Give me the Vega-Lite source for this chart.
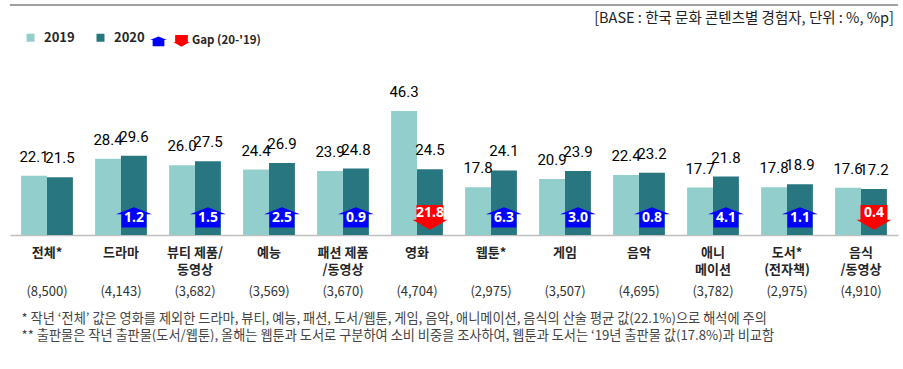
{
  "$schema": "https://vega.github.io/schema/vega-lite/v6.json",
  "width": 888,
  "height": 230,
  "padding": {"left": 9, "top": 4, "right": 6, "bottom": 0},
  "autosize": {"type": "pad"},
  "config": {"view": {"stroke": null}, "font": "Noto Sans CJK KR"},
  "datasets": {
    "bars": [
      {"cat": "전체*", "year": "2019", "value": 22.1},
      {"cat": "전체*", "year": "2020", "value": 21.5},
      {"cat": "드라마", "year": "2019", "value": 28.4},
      {"cat": "드라마", "year": "2020", "value": 29.6},
      {"cat": "뷰티 제품/\n동영상", "year": "2019", "value": 26.0},
      {"cat": "뷰티 제품/\n동영상", "year": "2020", "value": 27.5},
      {"cat": "예능", "year": "2019", "value": 24.4},
      {"cat": "예능", "year": "2020", "value": 26.9},
      {"cat": "패션 제품\n/동영상", "year": "2019", "value": 23.9},
      {"cat": "패션 제품\n/동영상", "year": "2020", "value": 24.8},
      {"cat": "영화", "year": "2019", "value": 46.3},
      {"cat": "영화", "year": "2020", "value": 24.5},
      {"cat": "웹툰*", "year": "2019", "value": 17.8},
      {"cat": "웹툰*", "year": "2020", "value": 24.1},
      {"cat": "게임", "year": "2019", "value": 20.9},
      {"cat": "게임", "year": "2020", "value": 23.9},
      {"cat": "음악", "year": "2019", "value": 22.4},
      {"cat": "음악", "year": "2020", "value": 23.2},
      {"cat": "애니\n메이션", "year": "2019", "value": 17.7},
      {"cat": "애니\n메이션", "year": "2020", "value": 21.8},
      {"cat": "도서*\n(전자책)", "year": "2019", "value": 17.8},
      {"cat": "도서*\n(전자책)", "year": "2020", "value": 18.9},
      {"cat": "음식\n/동영상", "year": "2019", "value": 17.6},
      {"cat": "음식\n/동영상", "year": "2020", "value": 17.2}
    ],
    "cats": [
      {"cat": "전체*", "n": 8500, "gap": null, "dir": null},
      {"cat": "드라마", "n": 4143, "gap": 1.2, "dir": "up"},
      {"cat": "뷰티 제품/\n동영상", "n": 3682, "gap": 1.5, "dir": "up"},
      {"cat": "예능", "n": 3569, "gap": 2.5, "dir": "up"},
      {"cat": "패션 제품\n/동영상", "n": 3670, "gap": 0.9, "dir": "up"},
      {"cat": "영화", "n": 4704, "gap": 21.8, "dir": "down"},
      {"cat": "웹툰*", "n": 2975, "gap": 6.3, "dir": "up"},
      {"cat": "게임", "n": 3507, "gap": 3.0, "dir": "up"},
      {"cat": "음악", "n": 4695, "gap": 0.8, "dir": "up"},
      {"cat": "애니\n메이션", "n": 3782, "gap": 4.1, "dir": "up"},
      {"cat": "도서*\n(전자책)", "n": 2975, "gap": 1.1, "dir": "up"},
      {"cat": "음식\n/동영상", "n": 4910, "gap": 0.4, "dir": "down"}
    ],
    "note": [{"text": "[BASE : 한국 문화 콘텐츠별 경험자, 단위 : %, %p]"}]
  },
  "encoding": {
    "x": {
      "field": "cat", "type": "nominal", "sort": null,
      "scale": {"paddingInner": 0.3, "paddingOuter": 0.15},
      "axis": {
        "title": ["* 작년 ‘전체’ 값은 영화를 제외한 드라마, 뷰티, 예능, 패션, 도서/웹툰, 게임, 음악, 애니메이션, 음식의 산술 평균 값(22.1%)으로 해석에 주의", "** 출판물은 작년 출판물(도서/웹툰), 올해는 웹툰과 도서로 구분하여 소비 비중을 조사하여, 웹툰과 도서는 ‘19년 출판물 값(17.8%)과 비교함"],
        "titleFontSize": 13.2, "titleFontWeight": "normal", "titleColor": "#444444",
        "titleAnchor": "start", "titleAlign": "left", "titleX": 11, "titleY": 77,
        "titleBaseline": "top", "titleLineHeight": 17,
        "labelAngle": 0, "labelFontSize": 13, "labelFontWeight": "bold", "labelColor": "#262626",
        "labelPadding": 11, "labelLineHeight": 17, "labelExpr": "split(datum.label, '\\n')",
        "ticks": false, "domainColor": "#bfbfbf", "domainWidth": 1.5
      }
    }
  },
  "layer": [
    {
      "data": {"name": "bars"},
      "mark": {"type": "bar"},
      "encoding": {
        "xOffset": {"field": "year", "type": "nominal", "scale": {"paddingInner": 0, "paddingOuter": 0}},
        "y": {"field": "value", "type": "quantitative", "scale": {"domain": [0, 85.8], "nice": false}, "axis": null},
        "color": {
          "field": "year", "type": "nominal",
          "scale": {"domain": ["2019", "2020"], "range": ["#92CFCC", "#287780"]},
          "legend": {"orient": "none", "legendX": 14, "legendY": 26, "direction": "horizontal", "title": null,
            "symbolType": "square", "symbolSize": 64, "symbolStrokeWidth": 0, "labelFontSize": 13,
            "labelFontWeight": "bold", "labelColor": "#262626", "columnPadding": 19, "labelOffset": 7}
        }
      }
    },
    {
      "data": {"name": "bars"},
      "mark": {"type": "text", "baseline": "alphabetic", "dy": -14, "fontSize": 15, "font": "Roboto", "color": "#000000"},
      "encoding": {
        "xOffset": {"field": "year", "type": "nominal"},
        "y": {"field": "value", "type": "quantitative"},
        "text": {"field": "value", "type": "quantitative", "format": ".1f"}
      }
    },
    {
      "data": {"name": "cats"},
      "transform": [{"filter": "isValid(datum.gap)"}],
      "mark": {"type": "point", "filled": true, "opacity": 1, "size": 1296},
      "encoding": {
        "xOffset": {"datum": "2020"},
        "y": {"datum": 6.6},
        "shape": {
          "field": "dir", "type": "nominal",
          "scale": {"domain": ["up", "down"], "range": ["M0,-0.56L1,-0.17L0.69,-0.17L0.69,0.56L-0.69,0.56L-0.69,-0.17L-1,-0.17Z", "M-0.75,-0.69L0.75,-0.69L0.75,0.14L0.97,0.14L0,0.69L-0.97,0.14L-0.75,0.14Z"]},
          "legend": {"orient": "none", "legendX": 139, "legendY": 26, "direction": "horizontal", "title": null,
            "symbolSize": 289, "labelExpr": "datum.value == 'down' ? \"Gap (20-'19)\" : ''",
            "labelFontSize": 11.5, "labelFontWeight": "bold", "labelColor": "#262626", "columnPadding": 0, "labelOffset": 1}
        },
        "fill": {
          "field": "dir", "type": "nominal",
          "scale": {"domain": ["up", "down"], "range": ["#0000FF", "#FF0000"]},
          "legend": {"orient": "none", "legendX": 139, "legendY": 26, "direction": "horizontal", "title": null,
            "symbolSize": 289, "labelExpr": "datum.value == 'down' ? \"Gap (20-'19)\" : ''",
            "labelFontSize": 11.5, "labelFontWeight": "bold", "labelColor": "#262626", "columnPadding": 0, "labelOffset": 1}
        }
      }
    },
    {
      "data": {"name": "cats"},
      "transform": [{"filter": "datum.dir == 'up'"}],
      "mark": {"type": "text", "baseline": "middle", "fontSize": 14, "fontWeight": "bold", "font": "Noto Sans", "color": "#FFFFFF"},
      "encoding": {
        "xOffset": {"datum": "2020"},
        "y": {"datum": 6.3},
        "text": {"field": "gap", "type": "quantitative", "format": ".1f"}
      }
    },
    {
      "data": {"name": "cats"},
      "transform": [{"filter": "datum.dir == 'down'"}],
      "mark": {"type": "text", "baseline": "middle", "fontSize": 14, "fontWeight": "bold", "font": "Noto Sans", "color": "#FFFFFF"},
      "encoding": {
        "xOffset": {"datum": "2020"},
        "y": {"datum": 8.2},
        "text": {"field": "gap", "type": "quantitative", "format": ".1f"}
      }
    },
    {
      "data": {"name": "cats"},
      "transform": [{"calculate": "'(' + format(datum.n, ',') + ')'", "as": "nlabel"}],
      "mark": {"type": "text", "baseline": "middle", "fontSize": 13, "color": "#333333"},
      "encoding": {
        "y": {"datum": -21.1},
        "text": {"field": "nlabel", "type": "nominal"}
      }
    },
    {
      "data": {"name": "note"},
      "mark": {"type": "rule", "color": "#808080", "strokeWidth": 1.5},
      "encoding": {"x": null, "y": {"datum": 85.8}}
    },
    {
      "data": {"name": "note"},
      "mark": {"type": "text", "align": "right", "baseline": "middle", "dx": -4, "fontSize": 14.5, "color": "#222222"},
      "encoding": {
        "x": {"value": "width"},
        "y": {"datum": 80.6},
        "text": {"field": "text", "type": "nominal"}
      }
    }
  ]
}
